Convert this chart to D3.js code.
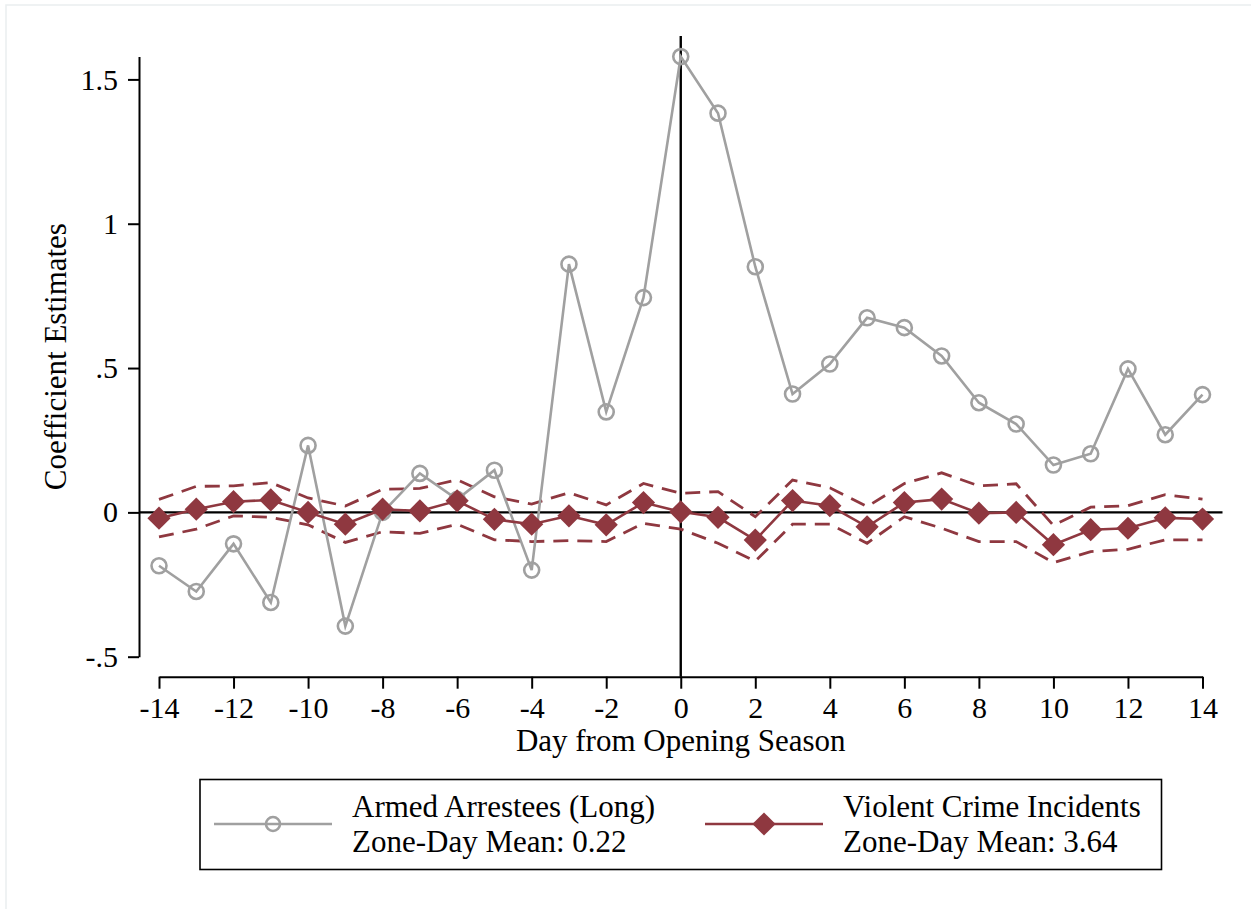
<!DOCTYPE html>
<html>
<head>
<meta charset="utf-8">
<script src="https://cdn.jsdelivr.net/npm/d3@7"></script>
<style>
  body { margin: 0; background: #fff; }
  svg { display: block; font-family: "Liberation Serif", "Times New Roman", serif; }
</style>
</head>
<body>
<script>
// Days relative to opening season
const days = d3.range(-14, 15);

// Armed arrestees (long guns) coefficients
const armed = [-0.185, -0.274, -0.109, -0.312, 0.232, -0.394, 0.0, 0.135, 0.045, 0.146,
  -0.2, 0.86, 0.348, 0.744, 1.579, 1.383, 0.851, 0.41, 0.514, 0.674,
  0.64, 0.542, 0.38, 0.306, 0.164, 0.203, 0.497, 0.269, 0.408];

// Violent crime incidents: estimate and 95% CI
const violent = [-0.02, 0.011, 0.037, 0.043, 0.0, -0.041, 0.011, 0.005, 0.04, -0.024,
  -0.041, -0.012, -0.043, 0.034, 0.002, -0.017, -0.096, 0.041, 0.023, -0.05,
  0.034, 0.046, -0.003, 0.0, -0.112, -0.06, -0.055, -0.019, -0.023];
const violentHi = [0.045, 0.09, 0.092, 0.103, 0.05, 0.022, 0.08, 0.083, 0.113, 0.054,
  0.029, 0.068, 0.026, 0.1, 0.066, 0.072, -0.015, 0.112, 0.085, 0.02,
  0.1, 0.137, 0.092, 0.099, -0.045, 0.018, 0.023, 0.061, 0.046];
const violentLo = [-0.085, -0.058, -0.012, -0.017, -0.043, -0.104, -0.067, -0.073, -0.041, -0.095,
  -0.101, -0.098, -0.101, -0.038, -0.058, -0.107, -0.169, -0.041, -0.041, -0.107,
  -0.015, -0.055, -0.101, -0.101, -0.174, -0.136, -0.128, -0.095, -0.095];

const xTicks = d3.range(-14, 15, 2);
const yTicks = [-0.5, 0, 0.5, 1, 1.5];
const yTickLabels = ["-.5", "0", ".5", "1", "1.5"];

const legendItems = [
  { name: "Armed Arrestees (Long)", mean: "Zone-Day Mean: 0.22", kind: "armed" },
  { name: "Violent Crime Incidents", mean: "Zone-Day Mean: 3.64", kind: "violent" }
];

const W = 1251, H = 909;
const grey = "#a0a0a0", cranberry = "#8f3840";

const svg = d3.select("body").append("svg")
  .attr("width", W).attr("height", H);

// light outer frame
svg.append("rect")
  .attr("x", 6).attr("y", 5).attr("width", W).attr("height", H)
  .attr("fill", "none").attr("stroke", "#eaeef0").attr("stroke-width", 1.5);

const x = d3.scaleLinear().domain([-14, 14]).range([159, 1202.5]);
const y = d3.scaleLinear().domain([-0.5, 1.5]).range([656.7, 79.4]);

const plotLeft = 139, plotRight = 1222.5, plotTop = 36, xAxisY = 676.7;

// reference lines
svg.append("line")
  .attr("x1", plotLeft).attr("x2", plotRight)
  .attr("y1", y(0)).attr("y2", y(0))
  .attr("stroke", "#000").attr("stroke-width", 2.4);
svg.append("line")
  .attr("x1", x(0)).attr("x2", x(0))
  .attr("y1", plotTop).attr("y2", xAxisY)
  .attr("stroke", "#000").attr("stroke-width", 2.4);

// y axis
const maxVal = d3.max(armed);
const yAxisScale = y.copy().domain([-0.5, maxVal]).range([y(-0.5), y(maxVal)]);
const gy = svg.append("g")
  .attr("transform", `translate(${plotLeft},0)`)
  .call(d3.axisLeft(yAxisScale)
    .tickValues(yTicks)
    .tickFormat((d, i) => yTickLabels[i])
    .tickSize(11).tickSizeOuter(0).tickPadding(10));
gy.selectAll("text").style("font-size", "30px").attr("fill", "#000")
  .style("font-family", "Liberation Serif");
gy.selectAll("line, path").attr("stroke", "#000").attr("stroke-width", 2);

// x axis
const gx = svg.append("g")
  .attr("transform", `translate(0,${xAxisY})`)
  .call(d3.axisBottom(x)
    .tickValues(xTicks)
    .tickFormat(d => String(d))
    .tickSize(12).tickSizeOuter(0).tickPadding(8));
gx.selectAll("text").style("font-size", "30px").attr("fill", "#000")
  .style("font-family", "Liberation Serif");
gx.selectAll("line, path").attr("stroke", "#000").attr("stroke-width", 2);

// axis titles
svg.append("text")
  .attr("transform", `translate(66,${(y(-0.5) + y(maxVal)) / 2}) rotate(-90)`)
  .attr("text-anchor", "middle")
  .style("font-size", "31px")
  .text("Coefficient Estimates");

svg.append("text")
  .attr("x", (x(-14) + x(14)) / 2).attr("y", 751)
  .attr("text-anchor", "middle")
  .style("font-size", "31px")
  .text("Day from Opening Season");

// series
const line = d3.line().x((d, i) => x(days[i])).y(d => y(d));

svg.append("path").datum(violentHi)
  .attr("d", line).attr("fill", "none")
  .attr("stroke", cranberry).attr("stroke-width", 2.8)
  .attr("stroke-dasharray", "15,9");
svg.append("path").datum(violentLo)
  .attr("d", line).attr("fill", "none")
  .attr("stroke", cranberry).attr("stroke-width", 2.8)
  .attr("stroke-dasharray", "15,9");

svg.append("path").datum(armed)
  .attr("d", line).attr("fill", "none")
  .attr("stroke", grey).attr("stroke-width", 2.6);
svg.selectAll(".armed-pt")
  .data(armed).enter().append("circle")
  .attr("class", "armed-pt")
  .attr("cx", (d, i) => x(days[i])).attr("cy", d => y(d))
  .attr("r", 7.5).attr("fill", "none")
  .attr("stroke", grey).attr("stroke-width", 2.6);

svg.selectAll(".violent-pt-line").data([violent]).enter().append("path")
  .attr("d", line).attr("fill", "none")
  .attr("stroke", cranberry).attr("stroke-width", 2.6);
const diamond = d3.symbol().type(d3.symbolSquare).size(270);
svg.selectAll(".violent-pt")
  .data(violent).enter().append("path")
  .attr("class", "violent-pt")
  .attr("d", diamond)
  .attr("transform", (d, i) => `translate(${x(days[i])},${y(d)}) rotate(45)`)
  .attr("fill", cranberry);

// legend
svg.append("rect")
  .attr("x", 200).attr("y", 779.5).attr("width", 961.5).attr("height", 90)
  .attr("fill", "#fff").attr("stroke", "#000").attr("stroke-width", 1.6);

const legendX = [214, 705];
legendItems.forEach((item, i) => {
  const g = svg.append("g").attr("transform", `translate(${legendX[i]},824)`);
  const col = item.kind === "armed" ? grey : cranberry;
  g.append("line").attr("x1", 0).attr("x2", 118).attr("y1", 0).attr("y2", 0)
    .attr("stroke", col).attr("stroke-width", 2.6);
  if (item.kind === "armed") {
    g.append("circle").attr("cx", 59).attr("r", 7)
      .attr("fill", "none").attr("stroke", grey).attr("stroke-width", 2.6);
  } else {
    g.append("path").attr("d", diamond)
      .attr("transform", "translate(59,0) rotate(45)").attr("fill", cranberry);
  }
  g.append("text").attr("x", 138).attr("y", -7)
    .style("font-size", "31px").text(item.name);
  g.append("text").attr("x", 138).attr("y", 28)
    .style("font-size", "31px").text(item.mean);
});
</script>
</body>
</html>
